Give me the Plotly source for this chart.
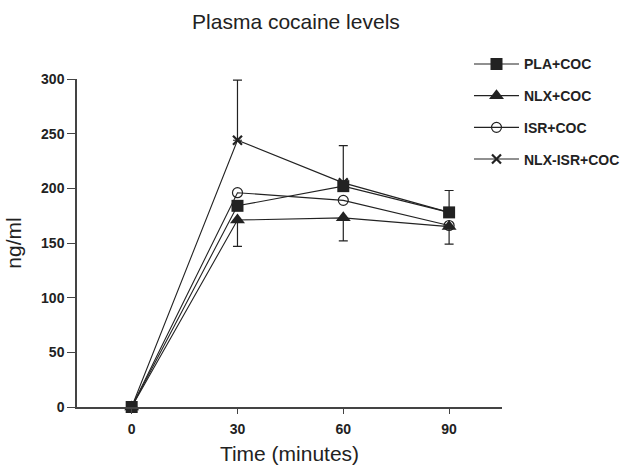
import plotly.graph_objects as go

# Sampling times (minutes)
time_min = [0, 30, 60, 90]

# Mean plasma cocaine (ng/ml) per treatment group
pla_coc = [0, 184, 202, 178]
nlx_coc = [0, 171, 173, 165]
isr_coc = [0, 196, 189, 166]
nlx_isr_coc = [0, 244, 205, 178]

# SEM shown as one-sided bars: upper on the highest group, lower on the lowest
upper_sem = [0, 55, 34, 20]
lower_sem = [0, 24, 21, 16]

series_names = ["PLA+COC", "NLX+COC", "ISR+COC", "NLX-ISR+COC"]
x_ticks = [0, 30, 60, 90]
y_ticks = [0, 50, 100, 150, 200, 250, 300]

INK = "#222222"
FONT = "Arial, Liberation Sans, sans-serif"

fig = go.Figure()

# Error bars first so that markers sit on top of their zero-length side
fig.add_trace(go.Scatter(
    x=time_min, y=nlx_isr_coc, mode="markers",
    marker=dict(size=1, opacity=0), showlegend=False, hoverinfo="skip",
    error_y=dict(type="data", symmetric=False, array=upper_sem,
                 arrayminus=[0, 0, 0, 0], color=INK, thickness=1.2, width=4.5),
))
fig.add_trace(go.Scatter(
    x=time_min, y=nlx_coc, mode="markers",
    marker=dict(size=1, opacity=0), showlegend=False, hoverinfo="skip",
    error_y=dict(type="data", symmetric=False, array=[0, 0, 0, 0],
                 arrayminus=lower_sem, color=INK, thickness=1.2, width=4.5),
))

styles = {
    "NLX-ISR+COC": dict(symbol="x-thin", size=9, line=dict(color=INK, width=2.2), color=INK),
    "ISR+COC": dict(symbol="circle-open", size=10, line=dict(color=INK, width=1.2), color=INK),
    "NLX+COC": dict(symbol="triangle-up", size=13, color=INK),
    "PLA+COC": dict(symbol="square", size=12, color=INK),
}
values = {
    "PLA+COC": pla_coc,
    "NLX+COC": nlx_coc,
    "ISR+COC": isr_coc,
    "NLX-ISR+COC": nlx_isr_coc,
}

# Draw order puts the square on top; legend rank keeps the listed order
for name in ["NLX-ISR+COC", "ISR+COC", "NLX+COC", "PLA+COC"]:
    fig.add_trace(go.Scatter(
        x=time_min, y=values[name], name=name, mode="lines+markers",
        line=dict(color=INK, width=1.1),
        marker=styles[name], cliponaxis=False,
        legendgroup=name, legendrank=series_names.index(name) + 1,
    ))

fig.update_layout(
    width=627, height=465,
    margin=dict(l=77, r=125, t=79, b=58, autoexpand=False),
    paper_bgcolor="white", plot_bgcolor="white",
    font=dict(family=FONT, color=INK),
    title=dict(text="Plasma cocaine levels", x=0.472, xanchor="center",
               y=0.953, yanchor="middle", font=dict(size=21, color=INK)),
    legend=dict(x=0.748, y=0.896, xref="container", yref="container",
                xanchor="left", yanchor="top",
                font=dict(size=14, color=INK, weight="bold"),
                tracegroupgap=10.5, itemwidth=45, bgcolor="rgba(0,0,0,0)"),
    showlegend=True,
)

fig.update_xaxes(
    range=[-15.5, 105], tickvals=x_ticks, ticks="outside", ticklen=5,
    tickcolor="#444", showline=True, linecolor="#444", linewidth=1.5,
    showgrid=False, zeroline=False, automargin=False, ticklabelstandoff=3,
    tickfont=dict(size=14, weight="bold", color=INK),
    title=dict(text="Time (minutes)", font=dict(size=21, color=INK), standoff=14),
)
fig.update_yaxes(
    range=[0, 300], tickvals=y_ticks, ticks="outside", ticklen=8,
    tickcolor="#444", showline=True, linecolor="#444", linewidth=1.5,
    showgrid=False, zeroline=False, automargin=False,
    tickfont=dict(size=14, weight="bold", color=INK),
    title=dict(text="ng/ml", font=dict(size=21, color=INK), standoff=14),
)

fig.write_html("out.html")
